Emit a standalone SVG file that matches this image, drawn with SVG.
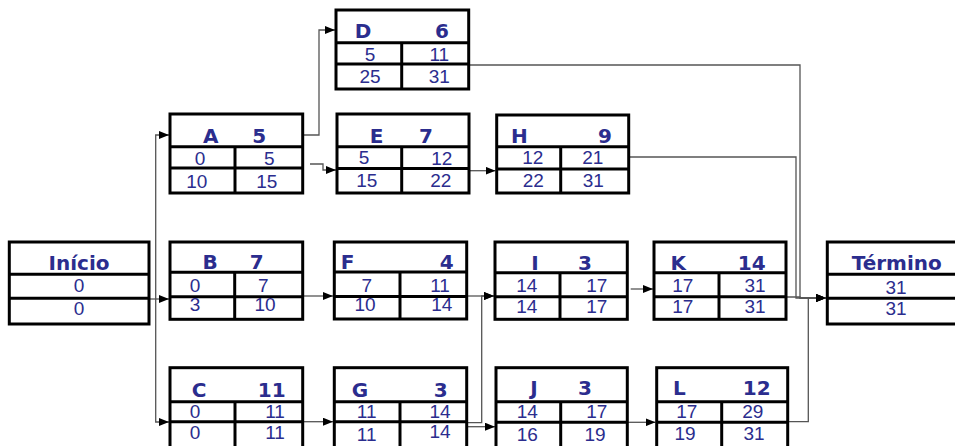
<svg xmlns="http://www.w3.org/2000/svg" width="955" height="446" viewBox="0 0 955 446">
<style>
.bx{fill:#fff;stroke:#000;stroke-width:3}
.ln{stroke:#000;stroke-width:3}
.hd{font-family:"DejaVu Sans",Verdana,sans-serif;font-weight:bold;font-size:20px;fill:#2b2d8e;text-anchor:middle}
.nm{font-family:"Liberation Sans",Arial,sans-serif;font-size:19px;fill:#2b2d8e;text-anchor:middle}
.cn{fill:none;stroke:#555;stroke-width:1.3;marker-end:url(#ar)}
</style>
<defs>
<marker id="ar" markerUnits="userSpaceOnUse" markerWidth="10" markerHeight="8" refX="10" refY="4" orient="auto">
<path d="M0,0 L10,4 L0,8 z" fill="#000"/>
</marker>
</defs>
<rect width="955" height="446" fill="#fff"/>
<g id="connectors">
<path class="cn" d="M149,299 H169"/>
<path class="cn" d="M155.7,299 V135 H169"/>
<path class="cn" d="M155.7,299 V422 H169"/>
<path class="cn" d="M302.7,135 H319 V30 H335"/>
<path class="cn" d="M310,164 H323 V170 H336"/>
<path class="cn" d="M469,170.7 H495.5"/>
<path class="cn" d="M468.7,65 H800 V298 H826"/>
<path class="cn" d="M628.7,157 H796 V298 H826"/>
<path class="cn" d="M302.7,296 H333"/>
<path class="cn" d="M466.7,296 H494"/>
<path class="cn" d="M466.7,422.7 H481.7 V296 H494"/>
<path class="cn" d="M302.7,421.7 H333"/>
<path class="cn" d="M466.7,426.7 H495"/>
<path class="cn" d="M630.7,289 H653"/>
<path class="cn" d="M786,297 H800 V298 H826"/>
<path class="cn" d="M627.3,422.3 H655.5"/>
<path class="cn" d="M787.7,421.7 H808.3 V298 H826"/>
</g>
<g id="inicio">
<rect class="bx" x="9.3" y="242" width="139.7" height="82"/>
<line class="ln" x1="9.3" y1="274.3" x2="149" y2="274.3"/>
<line class="ln" x1="9.3" y1="298.3" x2="149" y2="298.3"/>
<text class="hd" x="79" y="270">Início</text>
<text class="nm" x="79" y="292">0</text>
<text class="nm" x="79" y="315">0</text>
</g>
<g id="A">
<rect class="bx" x="170" y="114" width="132.7" height="79"/>
<line class="ln" x1="170" y1="146.7" x2="302.7" y2="146.7"/>
<line class="ln" x1="170" y1="168" x2="302.7" y2="168"/>
<line class="ln" x1="235" y1="146.7" x2="235" y2="193"/>
<text class="hd" x="210.7" y="143">A</text>
<text class="hd" x="259.3" y="143">5</text>
<text class="nm" x="200" y="165">0</text>
<text class="nm" x="269.3" y="165">5</text>
<text class="nm" x="196.7" y="188">10</text>
<text class="nm" x="266.7" y="188">15</text>
</g>
<g id="D">
<rect class="bx" x="336" y="10" width="132.7" height="79"/>
<line class="ln" x1="336" y1="42.7" x2="468.7" y2="42.7"/>
<line class="ln" x1="336" y1="64" x2="468.7" y2="64"/>
<line class="ln" x1="401.7" y1="42.7" x2="401.7" y2="89"/>
<text class="hd" x="363" y="38">D</text>
<text class="hd" x="442" y="38">6</text>
<text class="nm" x="370" y="61">5</text>
<text class="nm" x="439.3" y="61">11</text>
<text class="nm" x="370" y="83">25</text>
<text class="nm" x="439.3" y="83">31</text>
</g>
<g id="E">
<rect class="bx" x="337" y="114" width="132" height="79"/>
<line class="ln" x1="337" y1="146.7" x2="469" y2="146.7"/>
<line class="ln" x1="337" y1="168.5" x2="469" y2="168.5"/>
<line class="ln" x1="401.7" y1="146.7" x2="401.7" y2="193"/>
<text class="hd" x="376.7" y="143">E</text>
<text class="hd" x="426" y="143">7</text>
<text class="nm" x="364" y="164">5</text>
<text class="nm" x="441.7" y="165">12</text>
<text class="nm" x="366.7" y="187">15</text>
<text class="nm" x="440.7" y="187">22</text>
</g>
<g id="H">
<rect class="bx" x="496.7" y="115" width="132" height="78"/>
<line class="ln" x1="496.7" y1="146.7" x2="628.7" y2="146.7"/>
<line class="ln" x1="496.7" y1="169" x2="628.7" y2="169"/>
<line class="ln" x1="560.7" y1="146.7" x2="560.7" y2="193"/>
<text class="hd" x="519.3" y="143">H</text>
<text class="hd" x="605" y="143">9</text>
<text class="nm" x="532.7" y="164">12</text>
<text class="nm" x="592.7" y="164">21</text>
<text class="nm" x="533.3" y="187">22</text>
<text class="nm" x="593.3" y="187">31</text>
</g>
<g id="B">
<rect class="bx" x="170" y="242" width="132.7" height="77.3"/>
<line class="ln" x1="170" y1="272.3" x2="302.7" y2="272.3"/>
<line class="ln" x1="170" y1="296.7" x2="302.7" y2="296.7"/>
<line class="ln" x1="234.7" y1="272.3" x2="234.7" y2="319.3"/>
<text class="hd" x="210" y="269">B</text>
<text class="hd" x="256.7" y="269">7</text>
<text class="nm" x="195" y="291.5">0</text>
<text class="nm" x="263.3" y="291.5">7</text>
<text class="nm" x="195" y="311">3</text>
<text class="nm" x="265" y="311">10</text>
</g>
<g id="F">
<rect class="bx" x="334.3" y="242" width="132.4" height="77"/>
<line class="ln" x1="334.3" y1="272" x2="466.7" y2="272"/>
<line class="ln" x1="334.3" y1="296.5" x2="466.7" y2="296.5"/>
<line class="ln" x1="400" y1="272" x2="400" y2="319"/>
<text class="hd" x="347.7" y="269">F</text>
<text class="hd" x="446.7" y="269">4</text>
<text class="nm" x="366.7" y="291.7">7</text>
<text class="nm" x="440" y="291.7">11</text>
<text class="nm" x="365" y="311">10</text>
<text class="nm" x="441.7" y="311">14</text>
</g>
<g id="I">
<rect class="bx" x="495" y="242" width="132.3" height="77.3"/>
<line class="ln" x1="495" y1="272.7" x2="627.3" y2="272.7"/>
<line class="ln" x1="495" y1="296.7" x2="627.3" y2="296.7"/>
<line class="ln" x1="560" y1="272.7" x2="560" y2="319.3"/>
<text class="hd" x="535" y="270">I</text>
<text class="hd" x="585" y="270">3</text>
<text class="nm" x="526.7" y="292.3">14</text>
<text class="nm" x="596.7" y="292.3">17</text>
<text class="nm" x="526.7" y="313">14</text>
<text class="nm" x="596.7" y="313">17</text>
</g>
<g id="K">
<rect class="bx" x="654" y="242" width="132" height="77.3"/>
<line class="ln" x1="654" y1="272.7" x2="786" y2="272.7"/>
<line class="ln" x1="654" y1="296.7" x2="786" y2="296.7"/>
<line class="ln" x1="719" y1="272.7" x2="719" y2="319.3"/>
<text class="hd" x="678.3" y="270">K</text>
<text class="hd" x="751.7" y="270">14</text>
<text class="nm" x="682.7" y="292.3">17</text>
<text class="nm" x="755" y="292.3">31</text>
<text class="nm" x="682.7" y="313">17</text>
<text class="nm" x="755" y="313">31</text>
</g>
<g id="termino">
<rect class="bx" x="827.3" y="242" width="130" height="82"/>
<line class="ln" x1="827.3" y1="274.3" x2="957" y2="274.3"/>
<line class="ln" x1="827.3" y1="298.3" x2="957" y2="298.3"/>
<text class="hd" x="896.7" y="270">Término</text>
<text class="nm" x="896" y="294">31</text>
<text class="nm" x="896" y="315">31</text>
</g>
<g id="C">
<rect class="bx" x="170" y="367.7" width="132.7" height="85"/>
<line class="ln" x1="170" y1="401.7" x2="302.7" y2="401.7"/>
<line class="ln" x1="170" y1="421.7" x2="302.7" y2="421.7"/>
<line class="ln" x1="235" y1="401.7" x2="235" y2="452"/>
<text class="hd" x="199" y="396.7">C</text>
<text class="hd" x="271.7" y="396.7">11</text>
<text class="nm" x="195" y="418.3">0</text>
<text class="nm" x="275" y="418.3">11</text>
<text class="nm" x="195" y="439.3">0</text>
<text class="nm" x="275" y="439.3">11</text>
</g>
<g id="G">
<rect class="bx" x="334.3" y="367.7" width="132.4" height="85"/>
<line class="ln" x1="334.3" y1="401.7" x2="466.7" y2="401.7"/>
<line class="ln" x1="334.3" y1="421.7" x2="466.7" y2="421.7"/>
<line class="ln" x1="400" y1="401.7" x2="400" y2="452"/>
<text class="hd" x="360" y="396.7">G</text>
<text class="hd" x="440.7" y="396.7">3</text>
<text class="nm" x="366.7" y="418">11</text>
<text class="nm" x="440" y="418">14</text>
<text class="nm" x="366.7" y="441">11</text>
<text class="nm" x="440" y="438">14</text>
</g>
<g id="J">
<rect class="bx" x="496" y="367.7" width="131.3" height="85"/>
<line class="ln" x1="496" y1="401.7" x2="627.3" y2="401.7"/>
<line class="ln" x1="496" y1="422.3" x2="627.3" y2="422.3"/>
<line class="ln" x1="560.7" y1="401.7" x2="560.7" y2="452"/>
<text class="hd" x="534" y="395">J</text>
<text class="hd" x="585" y="395">3</text>
<text class="nm" x="527.3" y="417.5">14</text>
<text class="nm" x="596.7" y="418">17</text>
<text class="nm" x="527.3" y="440.7">16</text>
<text class="nm" x="595" y="440.7">19</text>
</g>
<g id="L">
<rect class="bx" x="656.7" y="367.7" width="131" height="85"/>
<line class="ln" x1="656.7" y1="401.7" x2="787.7" y2="401.7"/>
<line class="ln" x1="656.7" y1="422.3" x2="787.7" y2="422.3"/>
<line class="ln" x1="721.7" y1="401.7" x2="721.7" y2="452"/>
<text class="hd" x="679.3" y="395">L</text>
<text class="hd" x="756.7" y="395">12</text>
<text class="nm" x="686.7" y="418.3">17</text>
<text class="nm" x="752.7" y="418.3">29</text>
<text class="nm" x="685" y="440">19</text>
<text class="nm" x="754" y="440">31</text>
</g>
</svg>
